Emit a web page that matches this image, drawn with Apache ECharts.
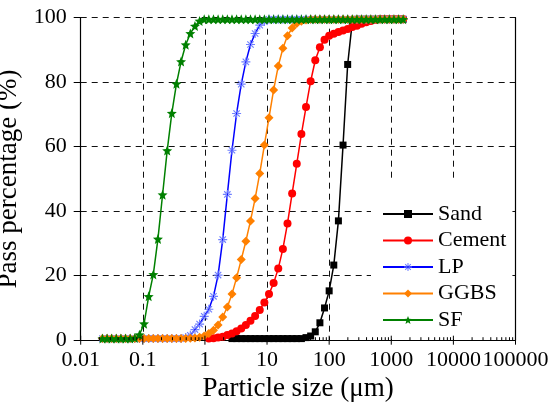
<!DOCTYPE html>
<html>
<head>
<meta charset="utf-8">
<script src="https://cdn.jsdelivr.net/npm/echarts@6/dist/echarts.min.js"></script>
<style>
  html, body { margin: 0; padding: 0; background: #fff; }
  #chart { width: 549px; height: 405px; }
</style>
</head>
<body>
<div id="chart"></div>
<script>
// Particle size classes (µm) shared by all measured materials
const sizes = [0.0224, 0.0266, 0.0315, 0.0374, 0.0444, 0.0527, 0.0626, 0.0743, 0.0882, 0.1047,
  0.1243, 0.1476, 0.1752, 0.208, 0.2469, 0.2931, 0.3479, 0.413, 0.4903, 0.5821,
  0.691, 0.8204, 0.9739, 1.156, 1.373, 1.629, 1.934, 2.296, 2.726, 3.236,
  3.842, 4.56, 5.414, 6.427, 7.63, 9.057, 10.75, 12.76, 15.15, 17.99,
  21.35, 25.35, 30.09, 35.73, 42.41, 50.35, 59.77, 70.96, 84.24, 100,
  118.7, 140.9, 167.3, 198.6, 235.8, 279.9, 332.3, 394.5, 468.3, 555.9,
  659.9, 783.4, 930, 1104, 1311, 1556];

// Cumulative pass percentage (%) for each size class; null = not measured
const sand = [null, null, null, null, null, null, null, null, null, null,
  null, null, null, null, null, null, null, null, null, null,
  null, null, null, null, null, null, null, null, 0.5, 0.5,
  0.5, 0.5, 0.5, 0.5, 0.5, 0.5, 0.5, 0.5, 0.5, 0.5,
  0.5, 0.5, 0.5, 0.5, 0.8, 1.3, 2.6, 5.4, 10.0, 15.3,
  23.3, 37.0, 60.5, 85.5, 98.8, 99.5, 99.5, 99.5, 99.5, 99.5,
  99.5, 99.5, 99.5, 99.5, 99.5, 99.5];

const cement = [null, null, null, null, null, null, null, null, null, null,
  null, null, null, null, null, null, null, null, null, null,
  null, null, null, 0.5, 0.6, 0.8, 1.1, 1.6, 2.1, 2.8,
  3.6, 4.7, 6.0, 7.5, 9.4, 11.7, 14.3, 17.7, 22.2, 28.3,
  36.2, 45.5, 54.7, 63.9, 72.3, 80.3, 86.8, 90.8, 93.2, 94.4,
  95.0, 95.6, 96.0, 96.5, 97.1, 97.5, 98.1, 98.6, 99.0, 99.3,
  99.5, 99.5, 99.5, 99.5, 99.5, 99.5];

const lp = [0.5, 0.5, 0.5, 0.5, 0.5, 0.5, 0.5, 0.5, 0.5, 0.5,
  0.5, 0.5, 0.5, 0.5, 0.5, 0.5, 0.5, 0.5, 0.8, 1.5,
  3.3, 5.0, 7.4, 9.6, 13.6, 20.2, 31.2, 45.2, 58.9, 70.3,
  79.4, 86.3, 91.7, 95.1, 97.7, 98.8, 99.5, 99.5, 99.5, 99.5,
  99.5, 99.5, 99.5, 99.5, 99.5, 99.5, 99.5, 99.5, 99.5, 99.5,
  99.5, 99.5, 99.5, 99.5, 99.5, 99.5, 99.5, 99.5, 99.5, 99.5,
  99.5, 99.5, 99.5, 99.5, 99.5, 99.5];

const ggbs = [0.5, 0.5, 0.5, 0.5, 0.5, 0.5, 0.5, 0.5, 0.5, 0.5,
  0.5, 0.5, 0.5, 0.5, 0.5, 0.5, 0.5, 0.5, 0.5, 0.6,
  0.7, 0.9, 1.3, 2.1, 3.1, 4.7, 7.2, 10.3, 14.3, 19.4,
  25.0, 30.7, 37.0, 43.9, 51.7, 60.5, 69.0, 77.6, 85.0, 90.5,
  94.4, 96.8, 98.2, 98.9, 99.3, 99.5, 99.5, 99.5, 99.5, 99.5,
  99.5, 99.5, 99.5, 99.5, 99.5, 99.5, 99.5, 99.5, 99.5, 99.5,
  99.5, 99.5, 99.5, 99.5, 99.5, 99.5];

const sf = [0.5, 0.5, 0.5, 0.5, 0.5, 0.5, 0.5, 0.7, 1.7, 5.1,
  13.6, 20.4, 31.4, 45.1, 58.8, 70.4, 79.5, 86.4, 91.6, 95.1,
  97.4, 99.0, 99.5, 99.5, 99.5, 99.5, 99.5, 99.5, 99.5, 99.5,
  99.5, 99.5, 99.5, 99.5, 99.5, 99.5, 99.5, 99.5, 99.5, 99.5,
  99.5, 99.5, 99.5, 99.5, 99.5, 99.5, 99.5, 99.5, 99.5, 99.5,
  99.5, 99.5, 99.5, 99.5, 99.5, 99.5, 99.5, 99.5, 99.5, 99.5,
  99.5, 99.5, 99.5, 99.5, 99.5, 99.5];

const seriesNames = ['Sand', 'Cement', 'LP', 'GGBS', 'SF'];
const xTickLabels = ['0.01', '0.1', '1', '10', '100', '1000', '10000', '100000'];
const yTickValues = [0, 20, 40, 60, 80, 100];

const FONT = "'Liberation Serif', 'Times New Roman', serif";

// Marker shapes
const ASTERISK = 'path://M-0.13,-1L0.13,-1L0.13,1L-0.13,1Z' +
  'M-1,-0.13L1,-0.13L1,0.13L-1,0.13Z' +
  'M0.614,0.798L0.798,0.614L-0.614,-0.798L-0.798,-0.614Z' +
  'M0.798,-0.614L0.614,-0.798L-0.798,0.614L-0.614,0.798Z';
const STAR = 'path://M0,-1L0.26,-0.36L0.951,-0.309L0.42,0.137L0.588,0.809L0,0.44L-0.588,0.809L-0.42,0.137L-0.951,-0.309L-0.26,-0.36Z';

function pairs(values) {
  return sizes.map((s, i) => [s, values[i]]);
}

// Log-axis tick positions: decades (with their labels) and the 2..9 subdivisions
const axisMarks = [];
for (let e = -2; e <= 5; e++) {
  axisMarks.push([Math.pow(10, e), 0, 1, e + 2]);
  if (e < 5) {
    for (let m = 2; m <= 9; m++) axisMarks.push([m * Math.pow(10, e), 0, 0, -1]);
  }
}

const chart = echarts.init(document.getElementById('chart'), null, { renderer: 'canvas' });

const lineWidth = 1.5;
function lineSeries(name, values, color, symbol, size, markerColor) {
  return {
    name: name,
    type: 'line',
    data: pairs(values),
    symbol: symbol,
    symbolSize: size,
    showSymbol: true,
    connectNulls: false,
    lineStyle: { color: color, width: lineWidth },
    itemStyle: { color: markerColor || color },
    emphasis: { disabled: true },
    z: 3
  };
}

const option = {
  animation: false,
  backgroundColor: '#fff',
  textStyle: { fontFamily: FONT },
  grid: {
    left: 80.7, right: 33.5, top: 17.7, bottom: 64.8,
    containLabel: false,
    outerBoundsMode: 'none'
  },
  legend: {
    data: seriesNames,
    orient: 'vertical',
    left: 371,
    top: 178,
    padding: [25, 6, 8, 11],
    itemGap: 4.5,
    itemWidth: 50,
    itemHeight: 10,
    backgroundColor: '#fff',
    textStyle: { fontFamily: FONT, fontSize: 22, color: '#000' },
    z: 4
  },
  xAxis: [
    {
      type: 'log',
      logBase: 10,
      min: 0.01,
      max: 100000,
      splitNumber: 7,
      position: 'bottom',
      name: 'Particle size (μm)',
      nameLocation: 'middle',
      nameGap: 35,
      nameTextStyle: { fontFamily: FONT, fontSize: 27, color: '#000' },
      axisLine: { show: true, lineStyle: { color: '#000', width: 1.2 } },
      axisTick: { show: false },
      minorTick: { show: false },
      axisLabel: { show: false },
      splitLine: { show: true, lineStyle: { color: '#111', width: 1, type: [6, 5] } }
    },
    {
      type: 'log',
      logBase: 10,
      min: 0.01,
      max: 100000,
      position: 'top',
      axisLine: { show: true, lineStyle: { color: '#000', width: 1.2 } },
      axisTick: { show: false },
      axisLabel: { show: false },
      splitLine: { show: false }
    }
  ],
  yAxis: [
    {
      type: 'value',
      min: 0,
      max: 100,
      interval: 20,
      position: 'left',
      name: 'Pass percentage (%)',
      nameLocation: 'middle',
      nameGap: 41,
      nameTextStyle: { fontFamily: FONT, fontSize: 27, color: '#000' },
      axisLine: { show: true, lineStyle: { color: '#000', width: 1.2 } },
      axisTick: { show: true, inside: false, length: 7, lineStyle: { color: '#000' } },
      axisLabel: {
        fontFamily: FONT, fontSize: 22, color: '#000', margin: 14,
        formatter: v => (yTickValues.indexOf(v) >= 0 ? String(v) : '')
      },
      splitLine: { show: true, lineStyle: { color: '#111', width: 1, type: [6, 5] } }
    },
    {
      type: 'value',
      min: 0,
      max: 100,
      interval: 20,
      position: 'right',
      axisLine: { show: true, lineStyle: { color: '#000', width: 1.2 } },
      axisTick: { show: false },
      axisLabel: { show: false },
      splitLine: { show: false }
    }
  ],
  series: [
    lineSeries('Sand', sand, '#000000', 'rect', 7),
    lineSeries('Cement', cement, '#ff0000', 'circle', 8),
    lineSeries('LP', lp, '#0000ff', ASTERISK, 9, '#7080ff'),
    lineSeries('GGBS', ggbs, '#ff8000', 'diamond', 9),
    lineSeries('SF', sf, '#008000', STAR, 10),
    {
      // ticks and decade labels of the logarithmic size axis
      type: 'custom',
      silent: true,
      clip: false,
      z: 5,
      data: axisMarks,
      encode: { x: 0, y: 1 },
      renderItem: function (params, api) {
        const p = api.coord([api.value(0), api.value(1)]);
        const major = api.value(2) === 1;
        const up = major ? 4.5 : 3;
        const down = major ? 4.5 : 0;
        const children = [{
          type: 'line',
          shape: { x1: p[0], y1: p[1] + down, x2: p[0], y2: p[1] - up },
          style: { stroke: '#000', lineWidth: 1 }
        }];
        if (major) {
          children.push({
            type: 'text',
            x: p[0],
            y: p[1] + 9,
            style: {
              text: xTickLabels[api.value(3)],
              fontFamily: FONT,
              fontSize: 22,
              fill: '#000',
              align: 'center',
              verticalAlign: 'top'
            }
          });
        }
        return { type: 'group', children: children };
      }
    }
  ]
};

chart.setOption(option);
</script>
</body>
</html>
